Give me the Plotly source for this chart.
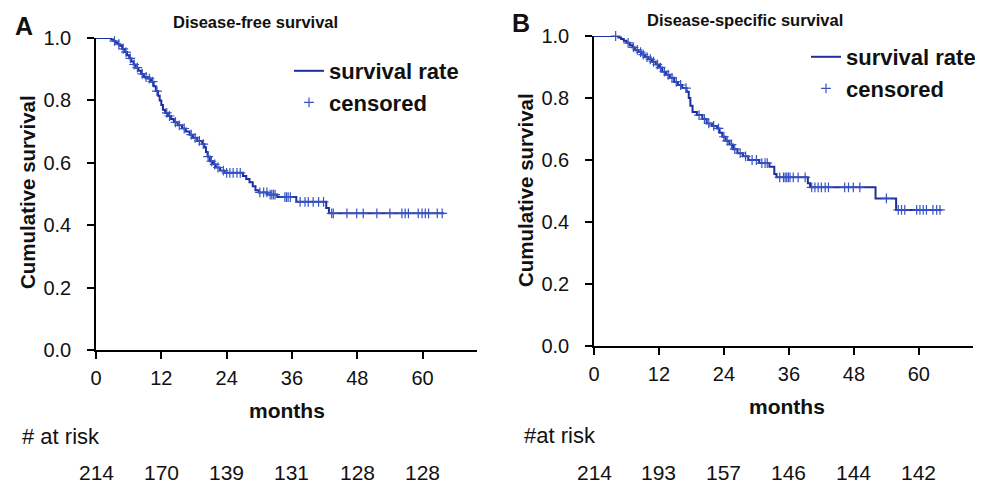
import plotly.graph_objects as go

# ---------------- Data ----------------
# Panel A: Disease-free survival (Kaplan-Meier steps)
dfs_time = [0, 2.8, 3.2, 3.6, 4.0, 4.4, 4.8, 5.3, 5.7, 6.1, 6.5, 6.9, 7.3, 7.8, 8.3, 8.8,
            9.5, 10.1, 10.6, 11.0, 11.4, 11.7, 12.0, 12.3, 12.7, 13.2, 13.8, 14.3, 15.0,
            15.8, 16.5, 17.2, 17.8, 18.6, 19.5, 19.9, 20.2, 20.5, 20.9, 21.5, 22.0, 22.8,
            23.6, 27.0, 27.6, 28.2, 28.8, 29.3, 29.9, 31.5, 33.3, 36.8, 42.3, 42.8, 64.0]
dfs_surv = [1.0, 0.995, 0.99, 0.985, 0.98, 0.975, 0.965, 0.955, 0.945, 0.935, 0.925, 0.915,
            0.905, 0.895, 0.885, 0.875, 0.87, 0.86, 0.845, 0.83, 0.815, 0.80, 0.785, 0.77,
            0.76, 0.75, 0.74, 0.73, 0.72, 0.71, 0.70, 0.69, 0.68, 0.67, 0.66, 0.65, 0.635,
            0.62, 0.605, 0.595, 0.585, 0.575, 0.568, 0.558, 0.548, 0.538, 0.525, 0.512,
            0.505, 0.498, 0.49, 0.475, 0.455, 0.438, 0.438]
dfs_censor = [3.4, 4.2, 5.0, 5.5, 6.3, 7.0, 7.6, 8.5, 9.2, 9.8, 10.4, 11.2, 13.0, 13.5,
              14.6, 15.3, 16.2, 17.5, 18.2, 19.0, 19.7, 20.6, 21.2, 21.8, 22.4, 23.4,
              24.0, 24.6, 25.2, 25.9, 26.5, 30.1, 30.8, 31.4, 32.0, 32.3, 32.6, 32.9,
              34.7, 35.0, 35.3, 35.7, 37.5, 38.4, 39.0, 39.9, 40.9, 41.8, 43.3, 43.6,
              46.1, 47.9, 49.1, 51.6, 54.0, 56.2, 56.8, 57.4, 59.2, 59.9, 60.5, 61.1,
              62.7, 63.6]

# Panel B: Disease-specific survival
dss_time = [0, 4.5, 5.0, 5.5, 6.0, 6.6, 7.1, 7.6, 8.2, 8.8, 9.4, 10.0, 10.7, 11.4, 12.0,
            12.6, 13.3, 14.0, 14.8, 15.5, 16.3, 17.1, 17.5, 17.8, 18.2, 19.0, 20.0, 20.8,
            21.8, 22.7, 23.2, 23.7, 24.3, 25.0, 25.7, 26.5, 27.5, 28.5, 30.5, 32.4, 33.3,
            33.7, 39.5, 39.9, 52.0, 55.8, 64.2]
dss_surv = [1.0, 0.995, 0.99, 0.985, 0.978, 0.97, 0.963, 0.955, 0.948, 0.94, 0.932, 0.925,
            0.917, 0.908, 0.898, 0.885, 0.875, 0.865, 0.852, 0.842, 0.832, 0.82, 0.80,
            0.775, 0.755, 0.745, 0.732, 0.718, 0.71, 0.702, 0.688, 0.675, 0.662, 0.65,
            0.635, 0.622, 0.612, 0.60, 0.59, 0.578, 0.555, 0.544, 0.525, 0.512, 0.476,
            0.439, 0.439]
dss_censor = [4.0, 6.3, 7.3, 8.0, 8.6, 9.1, 9.8, 10.4, 11.0, 11.7, 12.3, 13.0, 13.7,
              14.4, 15.2, 16.0, 17.0, 19.4, 20.4, 21.2, 22.1, 23.0, 24.0, 24.6, 25.4,
              26.0, 27.0, 28.0, 29.2, 30.0, 31.0, 31.6, 32.0, 34.3, 35.0, 35.3, 35.6,
              35.9, 36.2, 36.8, 37.7, 39.0, 40.2, 40.8, 41.4, 42.0, 42.7, 43.3, 46.3,
              47.0, 47.9, 49.1, 54.0, 56.2, 56.8, 57.4, 59.6, 60.2, 60.8, 61.4, 62.6,
              63.3, 63.9]

tick_months = [0, 12, 24, 36, 48, 60]
surv_ticks = [0, 0.2, 0.4, 0.6, 0.8, 1.0]
at_risk_A = [214, 170, 139, 131, 128, 128]
at_risk_B = [214, 193, 157, 146, 144, 142]


def surv_at(times, survs, t):
    s = survs[0]
    for ti, si in zip(times, survs):
        if ti <= t:
            s = si
        else:
            break
    return s


LINE_C = "#1c2f9e"
CENS_C = "#3653c4"
FONT = "Liberation Sans, Arial, sans-serif"
TXT_C = "#111111"

# The page body has an 8px default margin, so the figure is drawn 8px in from
# the window's top-left corner; size it to fill the rest of the 983x486 window.
OFF = 8
W, H = 983 - OFF, 486 - OFF


def px(xp):
    return (xp - OFF) / W


def py(yp):
    return 1 - (yp - OFF) / H


fig = go.Figure()

panels = [
    (dfs_time, dfs_surv, dfs_censor, "x", "y", "legend"),
    (dss_time, dss_surv, dss_censor, "x2", "y2", "legend2"),
]
for times, survs, cens, xa, ya, lg in panels:
    fig.add_trace(go.Scatter(
        x=times, y=survs, mode="lines", line=dict(color=LINE_C, width=2, shape="hv"),
        name="survival rate", xaxis=xa, yaxis=ya, legend=lg, cliponaxis=False))
    fig.add_trace(go.Scatter(
        x=cens, y=[surv_at(times, survs, c) for c in cens], mode="markers",
        marker=dict(symbol="cross-thin", size=7, line=dict(color=CENS_C, width=1.2)),
        name="censored", xaxis=xa, yaxis=ya, legend=lg, cliponaxis=False))

axis_common = dict(showgrid=False, zeroline=False, showline=True, linecolor="black",
                   linewidth=1.5, ticks="outside", ticklen=7, tickwidth=1.5,
                   tickcolor="black", tickfont=dict(family=FONT, size=20, color=TXT_C))

legend_font = dict(family=FONT, size=22, color=TXT_C, weight="bold")
fig.update_layout(
    width=W, height=H, margin=dict(l=0, r=0, t=0, b=0, autoexpand=False),
    paper_bgcolor="white", plot_bgcolor="white",
    xaxis=dict(domain=[px(96), px(477)], range=[0, 70], tickvals=tick_months,
               anchor="y", ticklabelstandoff=2, **axis_common),
    yaxis=dict(domain=[py(350), py(38)], range=[0, 1.0], tickvals=surv_ticks,
               tickformat=".1f", anchor="x", ticklabelstandoff=12, **axis_common),
    xaxis2=dict(domain=[px(594), px(973)], range=[0, 70], tickvals=tick_months,
                anchor="y2", ticklabelstandoff=2, **axis_common),
    yaxis2=dict(domain=[py(346), py(36)], range=[0, 1.0], tickvals=surv_ticks,
                tickformat=".1f", anchor="x2", ticklabelstandoff=12, **axis_common),
    legend=dict(x=px(289), y=py(50), xanchor="left", yanchor="top",
                font=legend_font, bgcolor="rgba(0,0,0,0)", tracegroupgap=0, itemwidth=30),
    legend2=dict(x=px(806), y=py(36), xanchor="left", yanchor="top",
                 font=legend_font, bgcolor="rgba(0,0,0,0)", tracegroupgap=0, itemwidth=30),
    showlegend=True,
)

ann = []


def txt(x, y, s, size=16, bold=False, xref="paper", angle=0, xanchor="center"):
    ann.append(dict(x=x, y=y, xref=xref, yref="paper", text=s, showarrow=False,
                    textangle=angle, xanchor=xanchor, yanchor="middle",
                    font=dict(family=FONT, size=size, color=TXT_C,
                              weight="bold" if bold else "normal")))


# panel letters & titles
txt(px(24), py(26), "A", size=25, bold=True)
txt(px(521), py(23), "B", size=25, bold=True)
txt(px(255), py(22), "Disease-free survival", size=16.5, bold=True)
txt(px(745), py(20), "Disease-specific survival", size=16.5, bold=True)
# axis titles
txt(px(27), py(192), "Cumulative survival", size=20.5, bold=True, angle=-90)
txt(px(526), py(190), "Cumulative survival", size=20.5, bold=True, angle=-90)
txt(px(287), py(410), "months", size=21, bold=True)
txt(px(787), py(406), "months", size=21, bold=True)
# at risk
txt(px(20), py(436), "# at risk", size=22, xanchor="left")
txt(px(522), py(435), "#at risk", size=22, xanchor="left")
for m, n in zip(tick_months, at_risk_A):
    txt(m, py(472), str(n), size=21, xref="x")
for m, n in zip(tick_months, at_risk_B):
    txt(m, py(472), str(n), size=21, xref="x2")

fig.update_layout(annotations=ann)
fig.write_html("out.html")
